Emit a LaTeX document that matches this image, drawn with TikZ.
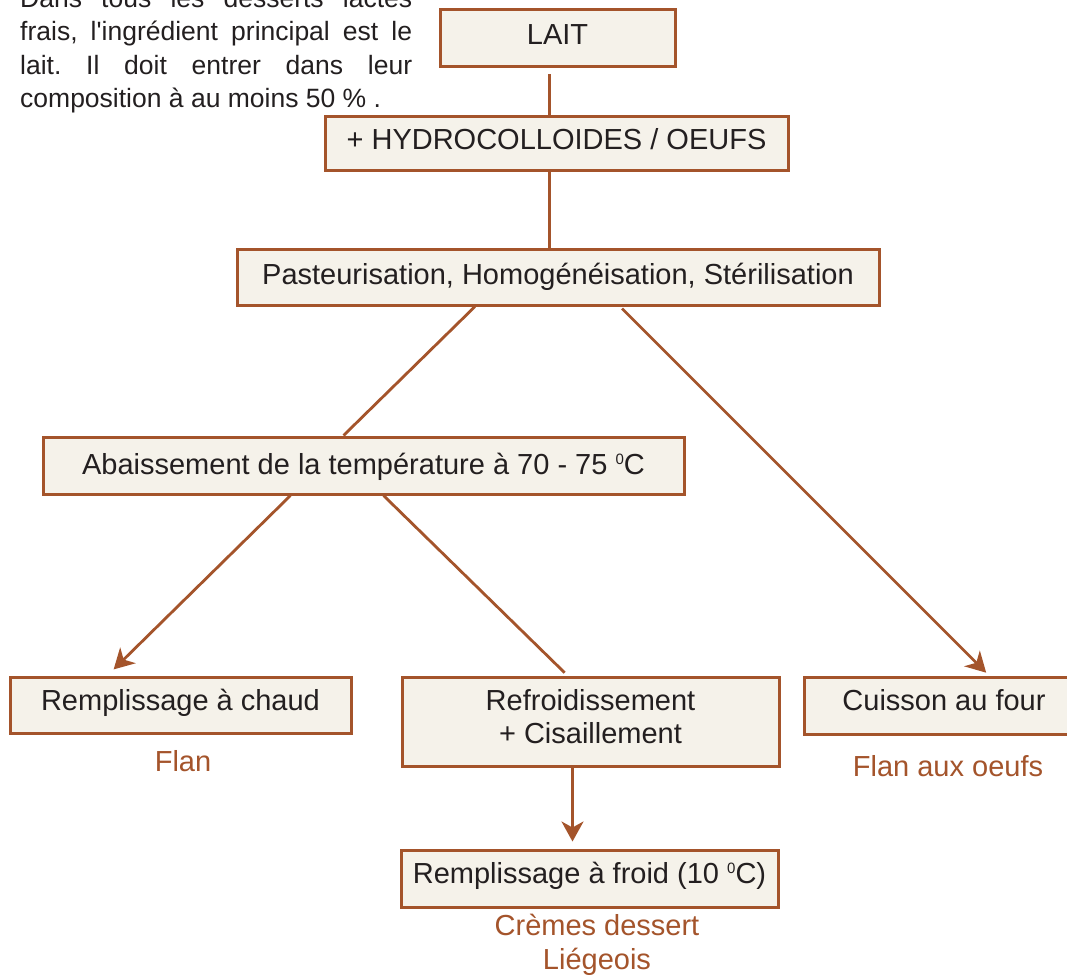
\documentclass[tikz,border=0pt]{standalone}
\usepackage{fontspec}
\setmainfont{Liberation Sans}
\usetikzlibrary{arrows.meta}
\definecolor{brn}{RGB}{164,84,43}
\definecolor{boxfill}{RGB}{245,242,234}
\definecolor{txt}{RGB}{35,31,32}
\newcommand\bl[2]{\raisebox{-#1pt}{#2}}
\newcommand\degz{\raisebox{10pt}{\fontsize{15}{15}\selectfont 0}}
\frenchspacing
\begin{document}
\begin{tikzpicture}[x=1pt,y=-1pt,
  stepbox/.style={draw=brn,line width=3pt,fill=boxfill,text=txt,inner sep=0pt,
    text height=0pt,text depth=0pt,font=\fontsize{29}{33.3}\selectfont},
  lbl/.style={text=brn,font=\fontsize{29}{34}\selectfont,align=center,inner sep=0pt},
  conn/.style={draw=brn,line width=2.8pt},
  arr/.style={conn,-{Stealth[length=20pt,width=22pt,inset=6pt]}}]
\useasboundingbox (0,0) rectangle (1067,976);
\clip (0,0) rectangle (1067,976);
\fill[white] (0,0) rectangle (1067,976);
% intro paragraph
\node[anchor=north west,inner sep=0pt,text=txt,align=left,
  font=\fontsize{26.5}{33.5}\selectfont] (intro) at (20,-12.5)
  {\makebox[392pt][s]{Dans tous les desserts lactés}\\
   \makebox[392pt][s]{frais, l\textquotesingle ingrédient principal est le}\\
   \makebox[392pt][s]{lait. Il doit entrer dans leur}\\
   composition à au moins 50 \% .};
% boxes
\node[stepbox,minimum width=235pt,minimum height=57pt] (lait) at (557.5,38.5) {\bl{6.5}{LAIT}};
\node[stepbox,minimum width=463pt,minimum height=54pt] (hydro) at (556.5,144) {\bl{6}{+ HYDROCOLLOIDES / OEUFS}};
\node[stepbox,minimum width=642pt,minimum height=56pt] (past) at (558,277) {\bl{7.3}{Pasteurisation, Homogénéisation, Stérilisation}};
\node[stepbox,minimum width=641pt,minimum height=57pt] (abai) at (363.5,465.5) {\bl{8.8}{Abaissement de la température à 70 - 75 \degz C}};
\node[stepbox,minimum width=341pt,minimum height=56pt] (chaud) at (180.5,705) {\bl{5}{Remplissage à chaud}};
\node[stepbox,minimum width=377pt,minimum height=89pt] (refr) at (590.5,721.5)
  {\raisebox{11.5pt}{\begin{tabular}[t]{@{}c@{}}Refroidissement\\+ Cisaillement\end{tabular}}};
\node[stepbox,minimum width=280pt,minimum height=57pt] (cuis) at (944,705.5) {\bl{4.5}{Cuisson au four}};
\node[stepbox,minimum width=377pt,minimum height=57pt] (froid) at (589.5,878.5) {\bl{4.8}{Remplissage à froid (10 \degz C)}};
% product labels
\node[lbl] (flan) at (183,761) {Flan};
\node[lbl] (flanoeuf) at (948,766) {Flan aux oeufs};
\node[lbl] (cremes) at (597,945) {Crèmes dessert\\Liégeois};
% connectors
\draw[conn] ([xshift=-8pt,yshift=-6pt]lait.south) -- ([xshift=-7pt]hydro.north);
\draw[conn] ([xshift=-7pt]hydro.south) -- ([xshift=-8.5pt]past.north);
\draw[conn] ([xshift=-83pt]past.south) -- ([xshift=-20pt]abai.north);
\draw[arr,shorten >=4pt] ([xshift=64pt,yshift=-2pt]past.south) -- ([xshift=45pt]cuis.north);
\draw[arr,shorten >=3pt] ([xshift=-73pt]abai.south) -- ([xshift=-69pt,yshift=4pt]chaud.north);
\draw[conn,shorten >=4pt] ([xshift=20pt]abai.south) -- ([xshift=-23pt]refr.north);
\draw[arr,shorten >=7pt] ([xshift=-18pt]refr.south) -- ([xshift=-17pt]froid.north);
\end{tikzpicture}
\end{document}
